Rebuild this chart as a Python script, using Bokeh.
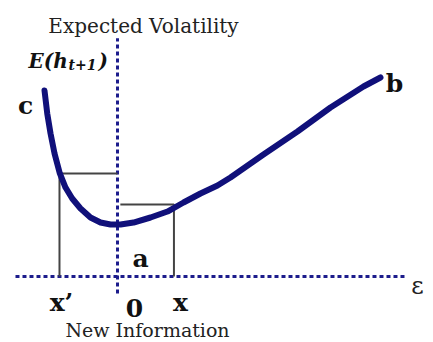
from bokeh.plotting import figure
from bokeh.models import Range1d
from bokeh.core.properties import value
from bokeh.embed import file_html
from bokeh.resources import INLINE

# News impact curve: epsilon (new information) vs expected volatility E(h_{t+1})
eps = [-1.281, -1.233, -1.175, -1.105, -1.012, -0.912, -0.795, -0.649, -0.474, -0.298,
       -0.123, 0.053, 0.281, 0.579, 0.877, 1.158, 1.456, 1.754, 1.982, 2.561, 3.158,
       3.737, 4.316, 4.614]
vol = [3.263, 2.860, 2.509, 2.158, 1.807, 1.561, 1.368, 1.193, 1.035, 0.947,
       0.912, 0.912, 0.947, 1.035, 1.140, 1.298, 1.456, 1.596, 1.737, 2.140, 2.544,
       2.965, 3.333, 3.491]

# shocks x' and x and their volatilities
x_neg, h_neg = -1.018, 1.807
x_pos, h_pos = 0.99, 1.263

# axis extents
eps_axis = [-1.79, 5.05]
vol_axis = [-0.30, 4.18]

p = figure(width=433, height=342, output_backend="svg", toolbar_location=None,
           x_range=Range1d(-2.053, 5.544), y_range=Range1d(-1.158, 4.842),
           min_border=0, outline_line_color=None)
p.axis.visible = False
p.grid.visible = False

navy = "#10107a"
axis_col = "#1c1c8c"

p.line(eps_axis, [0, 0], line_color=axis_col, line_width=3, line_dash="4 3")
p.line([0, 0], vol_axis, line_color=axis_col, line_width=3, line_dash="4 3")

p.line([x_neg, x_neg, 0], [0, h_neg, h_neg], line_color="#444444", line_width=2)
p.line([0.05, x_pos, x_pos], [h_pos, h_pos, 0], line_color="#444444", line_width=2)

p.line(eps, vol, line_color=navy, line_width=6, line_cap="round", line_join="round")

def px(xp):
    return (xp - 117) / 57.0

def py(yp):
    return (276 - yp) / 57.0

serif = value("DejaVu Serif")

p.text(x=[px(143)], y=[py(26)], text=["Expected Volatility"], text_font=serif,
       text_font_size="20px", text_color="#222222", text_align="center", text_baseline="alphabetic")
p.text(x=[px(147)], y=[py(330)], text=["New Information"], text_font=serif,
       text_font_size="19px", text_color="#222222", text_align="center", text_baseline="alphabetic")

p.text(x=[px(28)], y=[py(61)], text=["E(h"], text_font=serif, text_font_style="bold italic",
       text_font_size="20px", text_color="#111111", text_align="left", text_baseline="alphabetic")
p.text(x=[px(68)], y=[py(65)], text=["t+1"], text_font=serif, text_font_style="bold italic",
       text_font_size="14px", text_color="#111111", text_align="left", text_baseline="alphabetic")
p.text(x=[px(98)], y=[py(61)], text=[")"], text_font=serif, text_font_style="bold italic",
       text_font_size="20px", text_color="#111111", text_align="left", text_baseline="alphabetic")

bold_labels = [("c", 25, 105), ("b", 394, 83), ("a", 140, 258), ("x\u2019", 61, 302),
               ("0", 134, 308), ("x", 180, 302)]
for t, xp, yp in bold_labels:
    p.text(x=[px(xp)], y=[py(yp)], text=[t], text_font=serif, text_font_style="bold",
           text_font_size="25px", text_color="#111111", text_align="center", text_baseline="alphabetic")

p.text(x=[px(417)], y=[py(286)], text=["\u03b5"], text_font=serif,
       text_font_size="24px", text_color="#222222", text_align="center", text_baseline="alphabetic")

open("out.html", "w").write(file_html(p, INLINE))
